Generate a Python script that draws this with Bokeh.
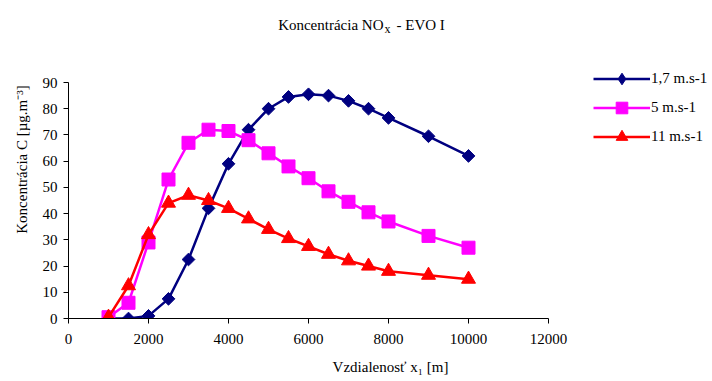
from bokeh.plotting import figure
from bokeh.models import ColumnDataSource, Legend, LegendItem, Label, Range1d, FixedTicker
from bokeh.embed import file_html
from bokeh.resources import INLINE
import math

distance = [1000, 1500, 2000, 2500, 3000, 3500, 4000, 4500, 5000, 5500, 6000, 6500, 7000, 7500, 8000, 9000, 10000]
conc_1_7 = [0, 0, 1, 7.5, 22.5, 42, 59, 72, 80, 84.5, 85.5, 85, 83, 80, 76.5, 69.5, 62]
conc_5 = [0.5, 6, 29, 53, 67, 72, 71.5, 68, 63, 58, 53.5, 48.5, 44.5, 40.5, 37, 31.5, 27]
conc_11 = [0.5, 12.5, 32, 44, 47, 45, 42, 38, 34, 30.5, 27.5, 24.5, 22, 20, 18, 16.5, 15]
series_labels = ["1,7 m.s-1", "5 m.s-1", "11 m.s-1"]
x_ticks = [0, 2000, 4000, 6000, 8000, 10000, 12000]
y_ticks = [0, 10, 20, 30, 40, 50, 60, 70, 80, 90]
x_axis_max = 12000
y_axis_max = 90

FONT = "Liberation Serif"
FS = "15px"

W, H = 712, 381
LEFT, BOTTOM = 68, 63
FRAME_W = W - LEFT
FRAME_H = H - BOTTOM
AXIS_W = 480   # pixels for 0..12000
AXIS_H = 236   # pixels for 0..90

# frame covers the whole area right of / above the axes; axis lines are bounded
p = figure(width=W, height=H, output_backend="svg", toolbar_location=None,
           x_range=Range1d(0, x_axis_max * FRAME_W / AXIS_W),
           y_range=Range1d(0, y_axis_max * FRAME_H / AXIS_H),
           min_border_left=LEFT, min_border_right=0, min_border_top=0, min_border_bottom=BOTTOM)
p.outline_line_color = None
p.xgrid.visible = False
p.ygrid.visible = False
p.background_fill_color = "white"
p.border_fill_color = "white"

for ax in (p.xaxis[0], p.yaxis[0]):
    ax.axis_line_color = "black"
    ax.major_tick_line_color = "black"
    ax.major_tick_out = 5
    ax.major_tick_in = 0
    ax.minor_tick_line_color = None
    ax.major_label_text_font = FONT
    ax.major_label_text_font_size = FS
    ax.major_label_text_color = "black"
    ax.axis_label_text_font = FONT
    ax.axis_label_text_font_size = FS
    ax.axis_label_text_font_style = "normal"
    ax.axis_label_text_color = "black"

p.xaxis[0].ticker = FixedTicker(ticks=x_ticks)
p.yaxis[0].ticker = FixedTicker(ticks=y_ticks)
p.xaxis[0].bounds = (0, x_axis_max)
p.yaxis[0].bounds = (0, y_axis_max)
p.xaxis[0].major_label_standoff = 10
p.xaxis[0].axis_label_standoff = 12
p.yaxis[0].major_label_standoff = 6
p.yaxis[0].axis_label_standoff = 10
p.xaxis[0].axis_label = "Vzdialenosť x\u2081 [m]"
p.yaxis[0].axis_label = "Koncentrácia C [µg.m\u207b\u00b3]"

src1 = ColumnDataSource(dict(x=distance, y=conc_1_7))
src2 = ColumnDataSource(dict(x=distance, y=conc_5))
src3 = ColumnDataSource(dict(x=distance, y=conc_11))

l1 = p.line("x", "y", source=src1, line_color="#000080", line_width=2.5)
m1 = p.scatter("x", "y", source=src1, marker="square", angle=math.pi / 4, size=9,
               fill_color="#000080", line_color="#000080")
l2 = p.line("x", "y", source=src2, line_color="#FF00FF", line_width=2.5)
m2 = p.scatter("x", "y", source=src2, marker="square", size=13,
               fill_color="#FF00FF", line_color="#FF00FF")
l3 = p.line("x", "y", source=src3, line_color="#FF0000", line_width=2.5)
m3 = p.scatter("x", "y", source=src3, marker="triangle", size=14,
               fill_color="#FF0000", line_color="#FF0000")
# hidden renderer used only for the legend swatch (upright diamond)
m1_key = p.scatter("x", "y", source=src1, marker="diamond", size=14,
                   fill_color="#000080", line_color="#000080")
m1_key.visible = False

legend = Legend(items=[
    LegendItem(label=series_labels[0], renderers=[l1, m1_key]),
    LegendItem(label=series_labels[1], renderers=[l2, m2]),
    LegendItem(label=series_labels[2], renderers=[l3, m3]),
], location=(525, 167))
legend.border_line_color = None
legend.background_fill_alpha = 0
legend.margin = 0
legend.padding = 0
legend.glyph_width = 57
legend.glyph_height = 29
legend.label_height = 29
legend.spacing = 0
legend.label_standoff = 1
legend.label_text_font = FONT
legend.label_text_font_size = FS
legend.label_text_color = "black"
legend.click_policy = "none"
p.add_layout(legend, "center")

t1 = Label(x=315, y=294, x_units="screen", y_units="screen", text="Koncentrácia NO",
           text_align="right", text_baseline="alphabetic", text_font=FONT,
           text_font_size=FS, text_color="black")
t2 = Label(x=316, y=290, x_units="screen", y_units="screen", text="x",
           text_align="left", text_baseline="alphabetic", text_font=FONT,
           text_font_size="12px", text_color="black")
t3 = Label(x=328, y=294, x_units="screen", y_units="screen", text="- EVO I",
           text_align="left", text_baseline="alphabetic", text_font=FONT,
           text_font_size=FS, text_color="black")
for t in (t1, t2, t3):
    p.add_layout(t)

open("out.html", "w").write(file_html(p, INLINE))
